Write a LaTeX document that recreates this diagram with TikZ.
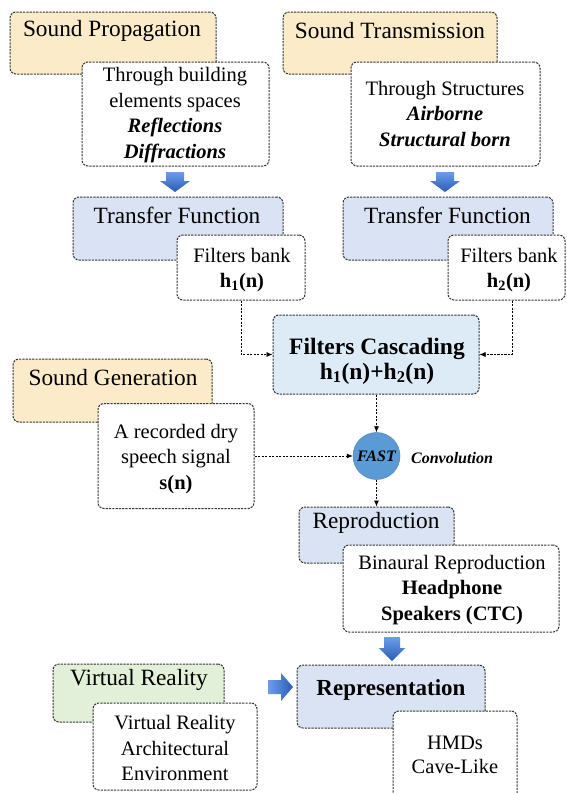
\documentclass[tikz,border=0pt]{standalone}
\usepackage{fontspec}
\setmainfont{Liberation Serif}
\usetikzlibrary{arrows.meta}
\definecolor{ylw}{HTML}{FCEBC8}
\definecolor{blu}{HTML}{DAE3F3}
\definecolor{casc}{HTML}{DDEBF7}
\definecolor{grn}{HTML}{E2F0D9}
\definecolor{circ}{HTML}{5B9BD5}
\definecolor{bordc}{HTML}{333333}
\definecolor{arrtop}{HTML}{6B9EEA}
\definecolor{arrbot}{HTML}{2C5BB5}
\tikzset{
 box/.style={draw=bordc, line width=1pt, dash pattern=on 2.2pt off 1.1pt, rounded corners=6pt, inner sep=0pt},
 ybox/.style={box, fill=ylw},
 bbox/.style={box, fill=blu},
 cbox/.style={box, fill=casc},
 gbox/.style={box, fill=grn},
 wbox/.style={box, fill=white},
 ttl/.style={font=\fontsize{23.3}{27}\selectfont, inner sep=0pt},
 body/.style={font=\fontsize{20.5}{25.5}\selectfont, align=center, inner sep=0pt},
 conn/.style={draw=black, line width=0.7pt, dash pattern=on 2.2pt off 1.3pt, -{Latex[length=6pt,width=5pt]}},
 barrow/.style={top color=arrtop, bottom color=arrbot, draw=none},
}
\begin{document}
\begin{tikzpicture}[x=1pt,y=-1pt]
\useasboundingbox (0,0) rectangle (567,793);
\fill[white] (0,0) rectangle (567,793);

% Sound Propagation
\node[ybox, minimum width=206pt, minimum height=62pt] (sp) at (113,43) {};
\node[ttl] (spT) at (112,31) {Sound Propagation};
\node[wbox, minimum width=187pt, minimum height=104pt] (spw) at (175.5,114) {};
\node[body] (spwT) at (175,115) {Through building\\elements spaces\\\textbf{\textit{Reflections}}\\\textbf{\textit{Diffractions}}};

% Sound Transmission
\node[ybox, minimum width=214pt, minimum height=62pt] (st) at (390,43) {};
\node[ttl] (stT) at (390,31) {Sound Transmission};
\node[wbox, minimum width=189pt, minimum height=104pt] (stw) at (445.5,114) {};
\node[body] (stwT) at (445,114) {Through Structures\\\textbf{\textit{Airborne}}\\\textbf{\textit{Structural born}}};

% block arrows down
\shade[barrow] (166,172) -- (184,172) -- (184,181) -- (190,181) -- (175,192) -- (160,181) -- (166,181) -- cycle;
\shade[barrow] (436,172) -- (454,172) -- (454,181) -- (460,181) -- (445,192) -- (430,181) -- (436,181) -- cycle;

% Transfer functions
\node[bbox, minimum width=210pt, minimum height=63pt] (tf1) at (178,228.5) {};
\node[ttl] (tf1T) at (177,215) {Transfer Function};
\node[wbox, minimum width=128pt, minimum height=65pt] (fb1) at (241,267.5) {};
\node[body] (fb1T) at (242,270) {Filters bank\\\textbf{h\textsubscript{1}(n)}};

\node[bbox, minimum width=210pt, minimum height=63pt] (tf2) at (448,228.5) {};
\node[ttl] (tf2T) at (447.5,215) {Transfer Function};
\node[wbox, minimum width=117pt, minimum height=65pt] (fb2) at (506.5,267.5) {};
\node[body] (fb2T) at (509,270) {Filters bank\\\textbf{h\textsubscript{2}(n)}};

% Filters cascading
\node[cbox, minimum width=206pt, minimum height=79pt] (fc) at (376,354.5) {};
\node[font=\fontsize{23.5}{25}\selectfont\bfseries, align=center, inner sep=0pt] (fcT) at (377,361) {Filters Cascading\\h\textsubscript{1}(n)+h\textsubscript{2}(n)};

\draw[conn] (fb1.south) |- (fc.west);
\draw[conn] ([xshift=5.5pt]fb2.south) |- (fc.east);

% Sound generation
\node[ybox, minimum width=199pt, minimum height=63pt] (sg) at (112.5,390.5) {};
\node[ttl] (sgT) at (113,378) {Sound Generation};
\node[wbox, minimum width=156pt, minimum height=105pt] (sgw) at (176,456) {};
\node[body] (sgwT) at (176,459) {A recorded dry\\speech signal\\\textbf{s(n)}};

% FAST convolution
\node[circle, fill=circ, draw=circ!85!black, line width=0.5pt, minimum size=47pt, inner sep=0pt, font=\fontsize{16}{18}\selectfont\bfseries\itshape] (fast) at (376.5,456) {FAST};
\node[font=\fontsize{16}{18}\selectfont\bfseries\itshape, inner sep=0pt] (convT) at (452,458) {Convolution};

\draw[conn] (fc.south -| fast.north) -- (fast.north);
\draw[conn] (sgw.east) -- (fast.west);

% Reproduction
\node[bbox, minimum width=155pt, minimum height=56pt] (rep) at (376.5,535) {};
\node[ttl] (repT) at (376,523) {Reproduction};
\node[wbox, minimum width=216pt, minimum height=87pt] (repw) at (451,588.5) {};
\node[body] (repwT) at (452,590) {Binaural Reproduction\\\textbf{Headphone}\\\textbf{Speakers (CTC)}};

\draw[conn] (fast.south) -- (rep.north -| fast.south);

% block arrow down to representation
\shade[barrow] (384,637) -- (400,637) -- (400,648) -- (405,648) -- (392,661) -- (379,648) -- (384,648) -- cycle;

% Virtual reality
\node[gbox, minimum width=171pt, minimum height=58pt] (vr) at (138.5,693) {};
\node[ttl] (vrT) at (139,680) {Virtual Reality};
\node[wbox, minimum width=164pt, minimum height=87pt] (vrw) at (175,746.5) {};
\node[body] (vrwT) at (175,748) {Virtual Reality\\Architectural\\Environment};

% block arrow right
\shade[left color=arrtop, right color=arrbot, draw=none] (268,680) -- (281,680) -- (281,673) -- (293,687) -- (281,701) -- (281,694) -- (268,694) -- cycle;

% Representation
\node[bbox, minimum width=188pt, minimum height=63pt] (repr) at (391,696.5) {};
\node[ttl, font=\fontsize{23}{27}\selectfont\bfseries] (reprT) at (391,690) {Representation};
\node[wbox, minimum width=124pt, minimum height=94pt] (hmd) at (455,758) {};
\node[body, font=\fontsize{20.5}{24}\selectfont] (hmdT) at (455,755) {HMDs\\Cave-Like};
\end{tikzpicture}
\end{document}
